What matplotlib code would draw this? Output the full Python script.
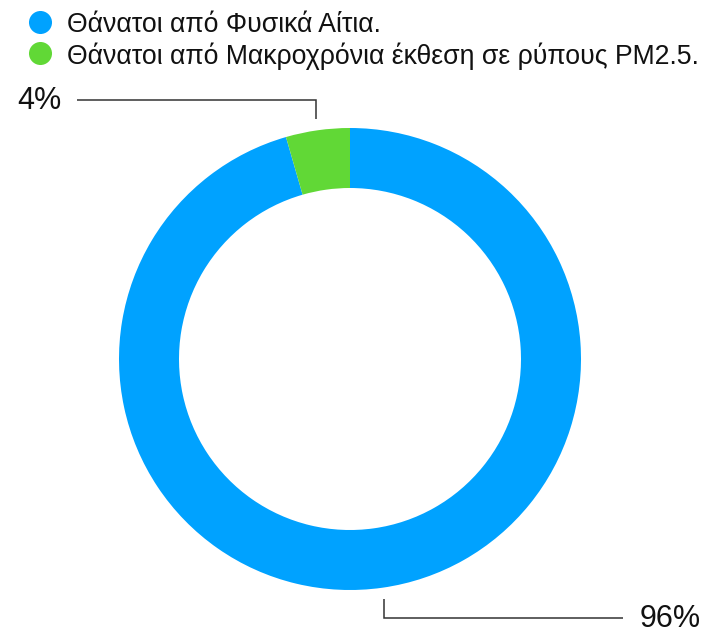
import matplotlib
matplotlib.use("Agg")
import matplotlib.pyplot as plt
import numpy as np

plt.rcParams["font.family"] = ["Liberation Sans", "DejaVu Sans"]

labels = ["Θάνατοι από Φυσικά Αίτια.",
          "Θάνατοι από Μακροχρόνια έκθεση σε ρύπους PM2.5."]
shares = [95.53, 4.47]
colors = ["#00A2FF", "#61D836"]

W, H = 708, 634
fig = plt.figure(figsize=(W / 100, H / 100), dpi=100)
ax = fig.add_axes([0, 0, 1, 1])

cx, cy, R, ring = 350, H - 359, 231, 60
wedges, _ = ax.pie(shares, colors=colors, startangle=90, counterclock=False,
                   center=(cx, cy), radius=R,
                   wedgeprops=dict(width=ring, linewidth=0))
ax.set_xlim(0, W)
ax.set_ylim(0, H)
ax.set_aspect("equal")
ax.axis("off")

# leader lines: out from the middle of each wedge, vertical to the label row, then sideways
label_rows = [(H - 618, 623, 640, "left"), (H - 100, 77, 62, "right")]
for w, v, (ry, ex, tx, ha) in zip(wedges, shares, label_rows):
    mid = np.deg2rad((w.theta1 + w.theta2) / 2)
    px = cx + (R + 11) * np.cos(mid)
    py = cy + (R + 11) * np.sin(mid)
    ax.plot([px, px, ex], [py, ry, ry], color="#333333", lw=1.1,
            solid_capstyle="butt", solid_joinstyle="miter")
    ax.text(tx, ry - 1, f"{v:.0f}%", fontsize=22, ha=ha, va="center",
            color="#111111")

# legend
for i, (lab, c) in enumerate(zip(labels, colors)):
    y = H - 22 - 31 * i
    ax.scatter([40], [y], s=275, color=c, linewidths=0)
    ax.text(67, y, lab, fontsize=19.2, ha="left", va="center_baseline",
            color="#111111")

fig.savefig("out.png", dpi=100)
